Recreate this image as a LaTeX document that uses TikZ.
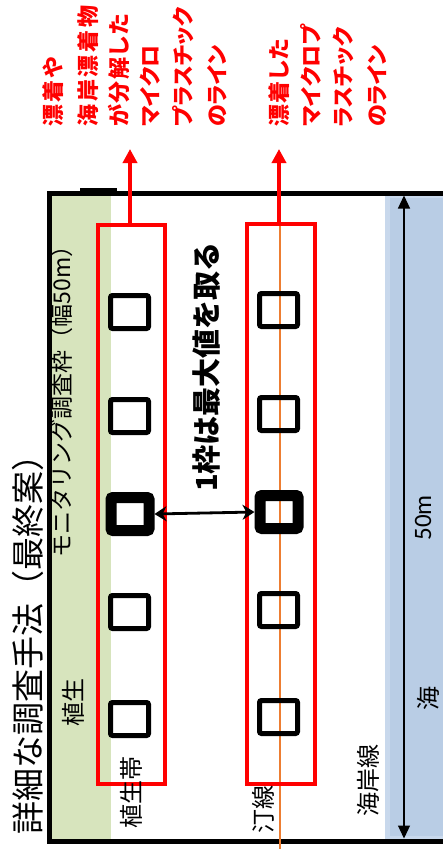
\documentclass[tikz,border=0pt]{standalone}
\usepackage{fontspec}
\setmainfont{Noto Sans CJK JP}
\newfontfamily\latf{Carlito}
\newfontfamily\jpprop[RawFeature=+palt]{Noto Sans CJK JP}
\usetikzlibrary{arrows.meta}
\definecolor{mred}{HTML}{FF0000}
\definecolor{vgreen}{HTML}{D7E4BD}
\definecolor{seablue}{HTML}{B9CDE5}
\definecolor{seaedge}{HTML}{C8D8EC}
\definecolor{shore}{HTML}{ED7D31}
\tikzset{
  sqbox/.style={draw=black, line width=5pt, minimum width=38pt, minimum height=33pt, inner sep=0pt, rounded corners=2pt},
  sqbold/.style={sqbox, line width=11pt},
  redbox/.style={draw=mred, line width=4.8pt, inner sep=0pt},
  redarr/.style={draw=mred, line width=4pt, -{Triangle[width=14pt,length=14pt]}},
  jlabel/.style={rotate=90, inner sep=0pt, font=\fontsize{24}{24}\selectfont},
  redtxt/.style={rotate=90, anchor=west, inner sep=0pt, text=mred, font=\jpprop\fontsize{22}{22}\selectfont\bfseries},
}
\begin{document}
\begin{tikzpicture}[x=1pt,y=-1pt]
\useasboundingbox (0,0) rectangle (443,849);
\clip (0,0) rectangle (443,849);
\fill[white] (0,0) rectangle (443,849);
% bands
\fill[vgreen] (51,193) rectangle (111,841);
\filldraw[fill=seablue, draw=seaedge, line width=5pt] (387.5,195.5) rectangle (460,838.5);
% frame
\draw[line width=5pt, line join=miter] (470,193) -- (49,193) -- (49,841) -- (470,841);
\fill[black] (80,188) rectangle (117,193);
% shoreline (orange)
\coordinate (o1) at (279.5,223);
\coordinate (o2) at (279.5,852);
\draw[shore, line width=2pt] (o1) -- (o2);
% red frames
\node[redbox, minimum width=67pt, minimum height=559pt] (r1) at (131.5,504.5) {};
\node[redbox, minimum width=68pt, minimum height=560pt] (r2) at (281,504) {};
% squares
\node[sqbox] (a1) at (129.5,312) {};
\node[sqbox] (a2) at (129.5,416) {};
\node[sqbold] (a3) at (130,514) {};
\node[sqbox] (a4) at (129.5,612) {};
\node[sqbox] (a5) at (129.5,719) {};
\node[sqbox] (b1) at (278.5,310) {};
\node[sqbox] (b2) at (278.5,414) {};
\node[sqbold] (b3) at (279,512) {};
\node[sqbox] (b4) at (278.5,610) {};
\node[sqbox] (b5) at (278.5,717) {};
% arrows
\draw[line width=2.8pt, {Stealth[length=12pt,width=15pt]}-{Stealth[length=12pt,width=15pt]}] (a3.east) -- (b3.west);
\coordinate (atop) at (404,195.5);
\coordinate (abot) at (404,838.5);
\draw[line width=1.2pt, {Triangle[width=12pt,length=13pt]}-{Triangle[width=12pt,length=13pt]}] (atop) -- (abot);
\coordinate (tip1) at (130,149);
\coordinate (tip2) at (279,149);
\draw[redarr] (tip1 |- r1.north) -- (tip1);
\draw[redarr] (tip2 |- r2.north) -- (tip2);
% texts
\node[rotate=90, inner sep=0pt, font=\fontsize{33}{33}\selectfont] (title) at (28,636) {詳細な調査手法（最終案）};
\node[rotate=90, inner sep=0pt, font=\fontsize{23}{23}\selectfont] (mon) at (62,396) {モニタリング調査枠（幅50m）};
\node[rotate=90, inner sep=0pt, font=\fontsize{29}{29}\selectfont\bfseries] (maxv) at (207,367) {1枠は最大値を取る};
\node[jlabel] (veg) at (73,702) {植生};
\node[jlabel] (vegz) at (131,792) {植生帯};
\node[jlabel] (tei) at (263,809) {汀線};
\node[jlabel] (kai) at (368,780) {海岸線};
\node[jlabel] (umi) at (428,698) {海};
\node[rotate=90, inner sep=0pt, font=\fontsize{25}{25}\latf] (len) at (423,518) {50m};
% red captions
\node[redtxt] (c1) at (53,127) {\addfontfeatures{LetterSpace=11}漂着や};
\node[redtxt] (c2) at (88,127) {\addfontfeatures{LetterSpace=13}海岸漂着物};
\node[redtxt] (c3) at (119,127) {\addfontfeatures{LetterSpace=7}が分解した};
\node[redtxt] (c4) at (150,127) {マイクロ};
\node[redtxt] (c5) at (183,127) {プラスチック};
\node[redtxt] (c6) at (217,127) {のライン};
\node[redtxt] (d1) at (279,127) {\addfontfeatures{LetterSpace=6}漂着した};
\node[redtxt] (d2) at (311,127) {マイクロプ};
\node[redtxt] (d3) at (343,127) {ラスチック};
\node[redtxt] (d4) at (377,127) {のライン};
\end{tikzpicture}
\end{document}
